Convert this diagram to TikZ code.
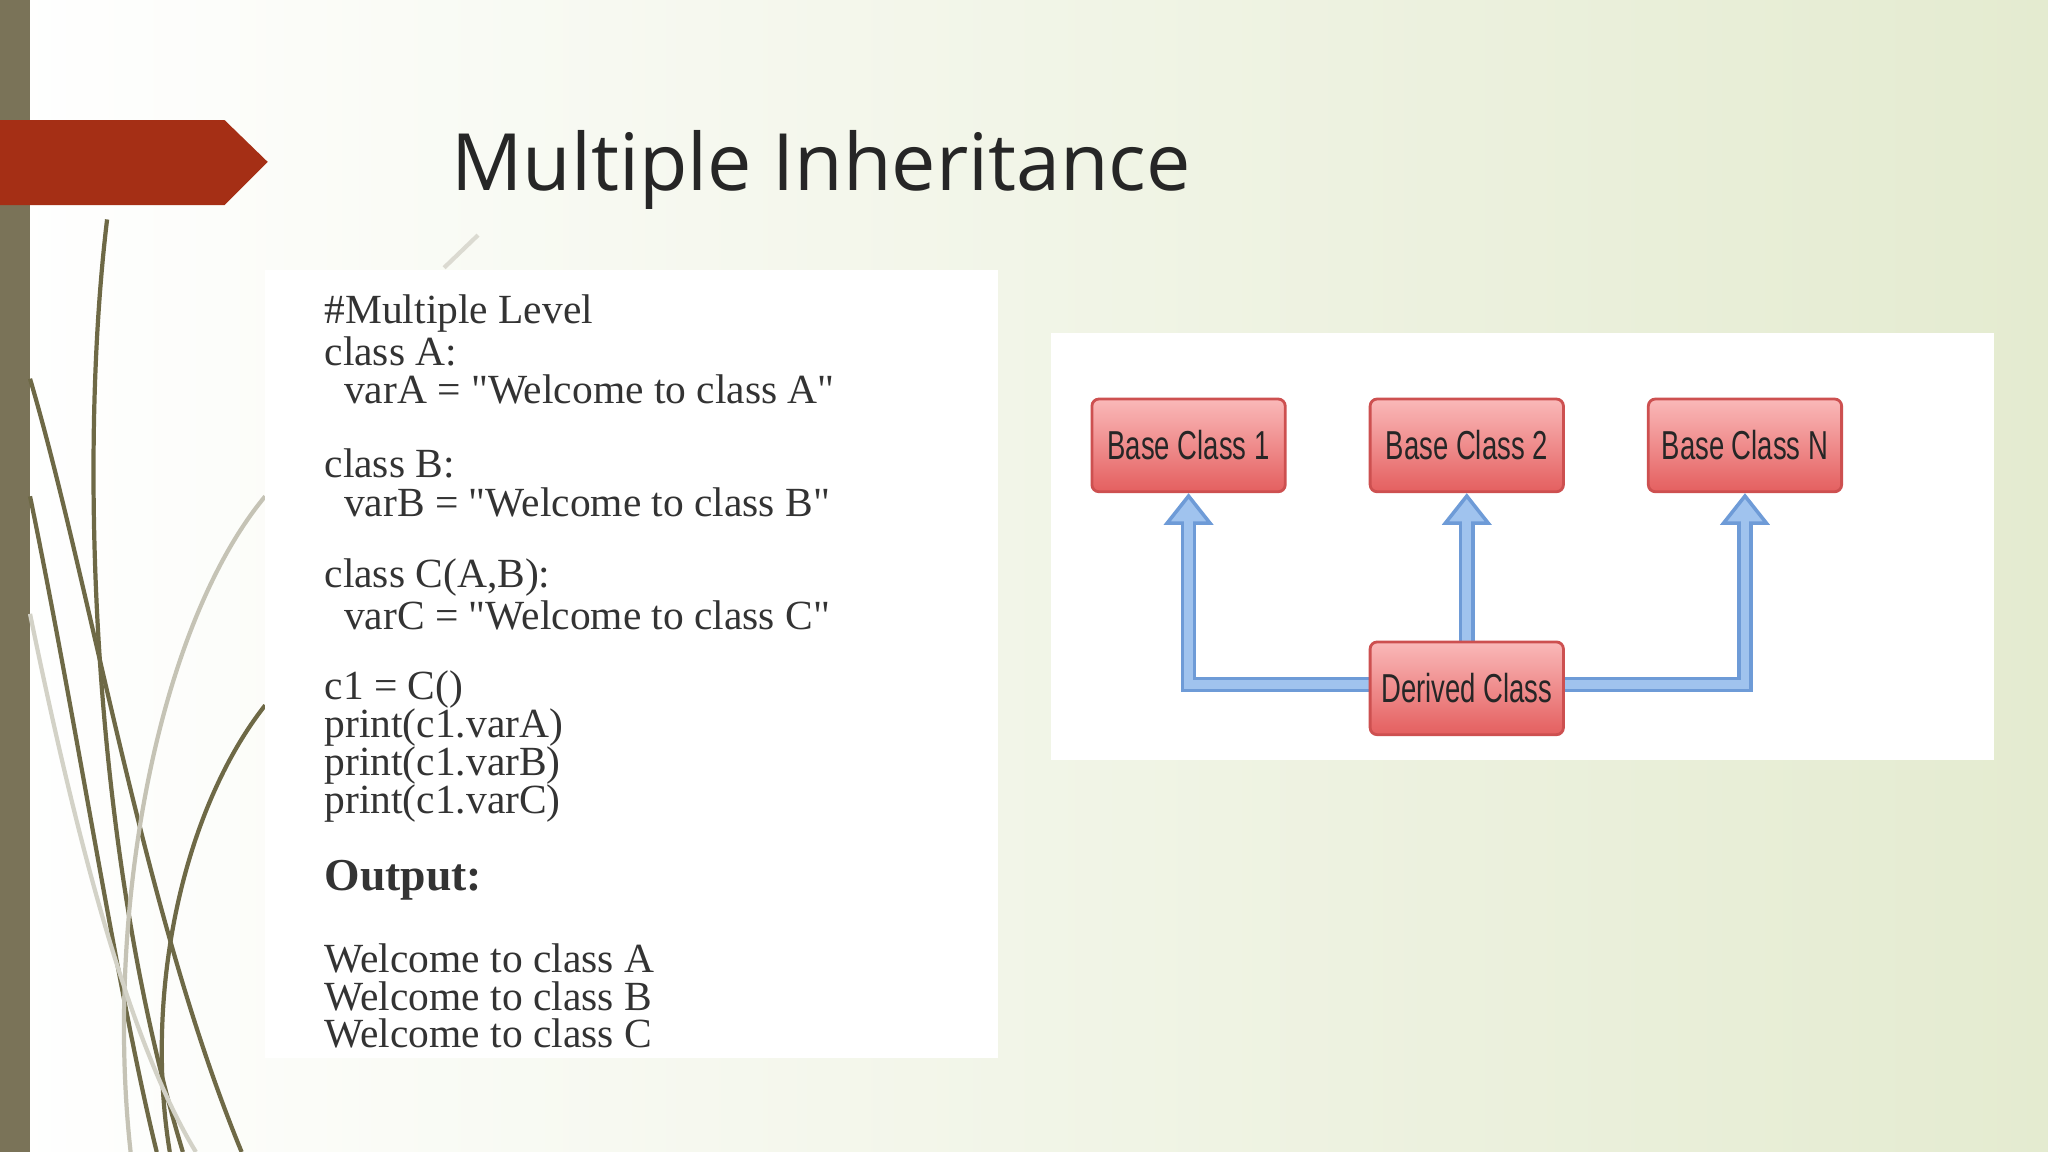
\documentclass[tikz,border=0pt]{standalone}
\usepackage{fontspec}
\setmainfont{Liberation Serif}
\newfontfamily\titlefont{Open Sans}
\newfontfamily\boxfont[FakeStretch=0.68]{Liberation Sans}
\usetikzlibrary{arrows.meta}
\definecolor{bgR}{RGB}{228,235,208}
\definecolor{barC}{RGB}{122,115,88}
\definecolor{redA}{RGB}{165,47,21}
\definecolor{olive}{RGB}{110,105,70}
\definecolor{nodeT}{RGB}{250,185,185}
\definecolor{nodeB}{RGB}{228,95,95}
\definecolor{nodeD}{RGB}{205,80,80}
\definecolor{blueL}{RGB}{160,195,238}
\definecolor{blueD}{RGB}{110,155,215}
\newcommand{\q}{\textquotedbl}
\tikzset{
  cls/.style={draw=nodeD, line width=0.8pt, top color=nodeT, bottom color=nodeB, rounded corners=2pt,
    minimum width=148*0.01306cm, minimum height=71*0.01306cm, font=\boxfont\fontsize{11.5}{13}\selectfont, text=black!85, inner sep=0pt},
  inh/.style={draw=blueD, line width=4.5pt, -{Triangle[open, width=14pt, length=9pt, fill=blueL, line width=1pt]}},
  inhin/.style={draw=blueL, line width=2.5pt},
  code/.style={anchor=west, font=\fontsize{11.8}{13}\selectfont, text=black!80, inner sep=0pt}
}
\begin{document}
\begin{tikzpicture}[x=0.01306cm, y=-0.01306cm]
\useasboundingbox (0,0) rectangle (1568,882);
\shade[left color=white, right color=bgR] (0,0) rectangle (1568,882);
\fill[barC] (0,0) rectangle (23,882);
% decorative curves
\begin{scope}[olive, line width=1.2pt]
\draw (82,168) .. controls (60,350) and (70,650) .. (140,882);
\draw (23,290) .. controls (70,450) and (110,700) .. (185,882);
\draw (23,380) .. controls (60,560) and (90,760) .. (120,882);
\draw (203,540) .. controls (140,620) and (110,760) .. (130,882);
\draw[olive!40] (203,380) .. controls (120,480) and (80,700) .. (100,882);
\draw[olive!30] (23,470) .. controls (60,650) and (100,800) .. (150,882);
\draw[olive!25] (340,205) -- (366,180);
\end{scope}
\fill[redA] (0,92) -- (172,92) -- (205,124) -- (172,157) -- (0,157) -- cycle;
\node[anchor=west, inner sep=0pt, font=\titlefont\fontsize{22.5}{26}\selectfont, text=black!85] (title) at (345,130) {Multiple Inheritance};
% code box
\fill[white] (203,207) rectangle (764,810);
\node[code] (l1) at (248,240) {\#Multiple Level};
\node[code] (l2) at (248,269) {class A:};
\node[code] (l3) at (263,298) {varA = \q Welcome to class A\q};
\node[code] (l4) at (248,355) {class B:};
\node[code] (l5) at (263,385) {varB = \q Welcome to class B\q};
\node[code] (l6) at (248,442) {class C(A,B):};
\node[code] (l7) at (263,471) {varC = \q Welcome to class C\q};
\node[code] (l8) at (248,528) {c1 = C()};
\node[code] (l9) at (248,557) {print(c1.varA)};
\node[code] (l10) at (248,586) {print(c1.varB)};
\node[code] (l11) at (248,615) {print(c1.varC)};
\node[code, font=\bfseries\fontsize{13}{15}\selectfont] (l12) at (248,674) {Output:};
\node[code] (l13) at (248,734) {Welcome to class A};
\node[code] (l14) at (248,763) {Welcome to class B};
\node[code] (l15) at (248,791) {Welcome to class C};
% diagram box
\fill[white] (805,255) rectangle (1527,582);
\node[cls] (b1) at (910,341) {Base Class 1};
\node[cls] (b2) at (1123,341) {Base Class 2};
\node[cls] (bn) at (1336,341) {Base Class N};
\coordinate (c1) at (910,524);
\coordinate (c3) at (1336,524);
\coordinate (dl) at (1049,524);
\coordinate (dr) at (1197,524);
\coordinate (dt) at (1123,491);
\draw[inh] (dl) -- (c1) -- (b1.south);
\draw[inh] (dt) -- (b2.south);
\draw[inh] (dr) -- (c3) -- (bn.south);
\draw[inhin] (dl) -- (c1) -- ([yshift=-11*0.01306cm]b1.south);
\draw[inhin] (dt) -- ([yshift=-11*0.01306cm]b2.south);
\draw[inhin] (dr) -- (c3) -- ([yshift=-11*0.01306cm]bn.south);
\node[cls] (d) at (1123,527) {Derived Class};
\end{tikzpicture}
\end{document}
